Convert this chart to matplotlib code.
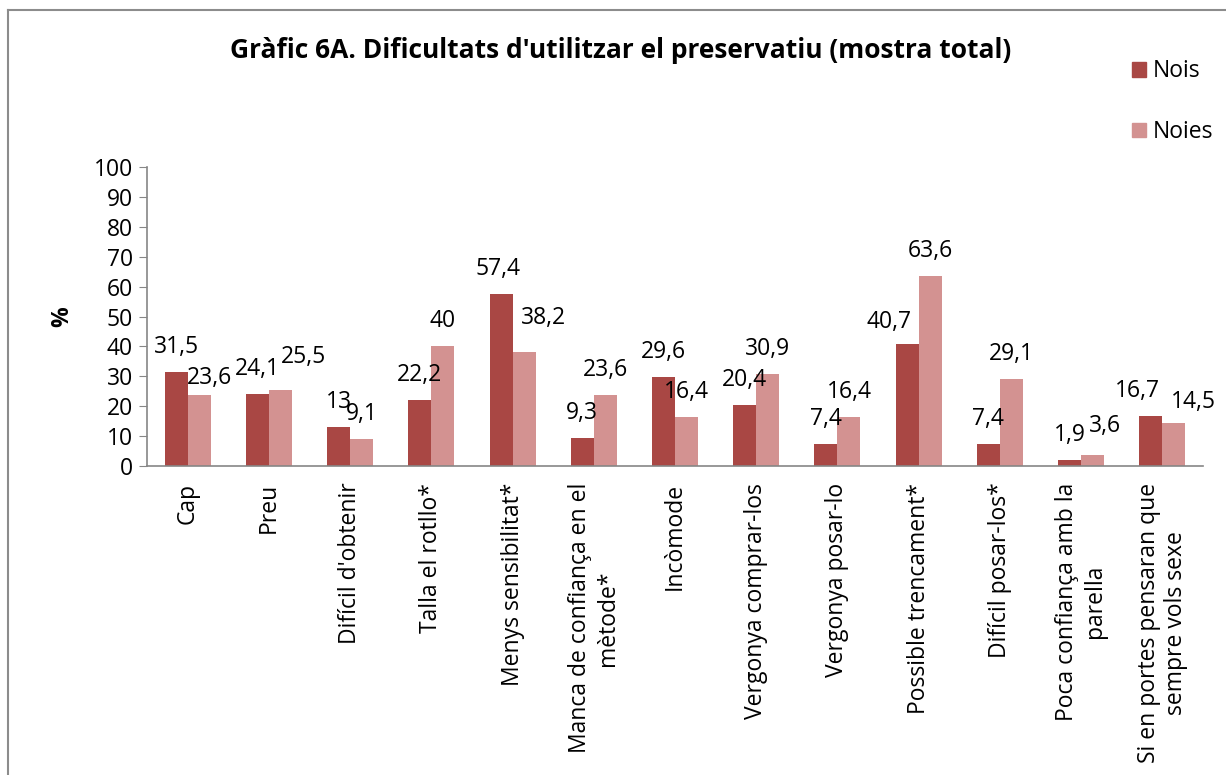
import matplotlib

matplotlib.use("Agg")
import matplotlib.pyplot as plt
import numpy as np
from matplotlib.lines import Line2D
from matplotlib.patches import Patch

# Dades del grafic
categories = [
    "Cap",
    "Preu",
    "Difícil d'obtenir",
    "Talla el rotllo*",
    "Menys sensibilitat*",
    "Manca de confiança en el\nmètode*",
    "Incòmode",
    "Vergonya comprar-los",
    "Vergonya posar-lo",
    "Possible trencament*",
    "Difícil posar-los*",
    "Poca confiança amb la\nparella",
    "Si en portes pensaran que\nsempre vols sexe",
]
nois = [31.5, 24.1, 13, 22.2, 57.4, 9.3, 29.6, 20.4, 7.4, 40.7, 7.4, 1.9, 16.7]
noies = [23.6, 25.5, 9.1, 40, 38.2, 23.6, 16.4, 30.9, 16.4, 63.6, 29.1, 3.6, 14.5]
series_names = ["Nois", "Noies"]
yticks = list(range(0, 101, 10))

# desplacaments manuals de les etiquetes (pixels), com a l'original d'Excel
nois_shift = [(0, 0), (0, 0), (0, 0), (0, 0), (-3, 0), (0, 0), (0, 0),
              (0, 0), (0, 0), (-18, -3), (0, 0), (0, 0), (-13, 0)]
noies_shift = [(10, -8), (23, 8), (0, 0), (0, 0), (19, 9), (0, 0), (0, 0),
               (0, 0), (0, 0), (0, 0), (0, 0), (12, 4), (20, -4)]

COLOR_NOIS = "#A94744"
COLOR_NOIES = "#D39291"
AXIS_GRAY = "#868686"
FS = 16.5
LABEL_GAP = 13  # pixels entre la barra i l'etiqueta

plt.rcParams["font.family"] = ["Open Sans", "DejaVu Sans"]

W, H = 1226, 775
fig = plt.figure(figsize=(W / 100, H / 100), dpi=100)
fig.patch.set_facecolor("white")

# marc del grafic (vora esquerra i superior visibles)
fig.add_artist(Line2D([8 / W, 8 / W], [0, 1 - 10 / H], color="#8c8c8c", lw=1.5))
fig.add_artist(Line2D([8 / W, 1], [1 - 10 / H, 1 - 10 / H], color="#8c8c8c", lw=1.5))

ax = fig.add_axes([147 / W, (H - 466) / H, (1203 - 147) / W, (466 - 167) / H])

x = np.arange(len(categories))
w = 0.283
b1 = ax.bar(x - w / 2, nois, w, color=COLOR_NOIS, label=series_names[0])
b2 = ax.bar(x + w / 2, noies, w, color=COLOR_NOIES, label=series_names[1])

fmt = lambda v: f"{v:g}".replace(".", ",")
for bars, vals, shifts in [(b1, nois, nois_shift), (b2, noies, noies_shift)]:
    for bar, v, (dx, dy) in zip(bars, vals, shifts):
        ax.annotate(fmt(v), (bar.get_x() + bar.get_width() / 2, v),
                    xytext=(dx, LABEL_GAP + dy), textcoords="offset pixels",
                    ha="center", va="bottom", fontsize=FS, annotation_clip=False)

ax.set_xlim(-0.5, len(categories) - 0.5)
ax.set_ylim(0, 100)
ax.set_yticks(yticks)
ax.tick_params(axis="y", labelsize=FS, length=6, color=AXIS_GRAY, pad=4)
ax.set_xticks(x)
ax.set_xticklabels(categories, rotation=90, fontsize=FS, ha="center", va="top",
                   multialignment="center")
ax.tick_params(axis="x", length=0, pad=12)

for side in ["top", "right"]:
    ax.spines[side].set_visible(False)
for side in ["left", "bottom"]:
    ax.spines[side].set_color(AXIS_GRAY)
    ax.spines[side].set_linewidth(1.2)

ax.set_ylabel("%", fontsize=FS, fontweight="bold", labelpad=14)

fig.text(621 / W, 1 - 51 / H, "Gràfic 6A. Dificultats d'utilitzar el preservatiu (mostra total)",
         ha="center", va="center", fontsize=19, fontweight="bold")

handles = [Patch(color=COLOR_NOIS), Patch(color=COLOR_NOIES)]
fig.legend(handles, series_names, loc="upper left", bbox_to_anchor=(1121 / W, 1 - 48 / H),
           frameon=False, fontsize=FS, handlelength=0.6, handleheight=0.6,
           handletextpad=0.3, labelspacing=1.6, borderpad=0)

fig.savefig("out.png", dpi=100)
